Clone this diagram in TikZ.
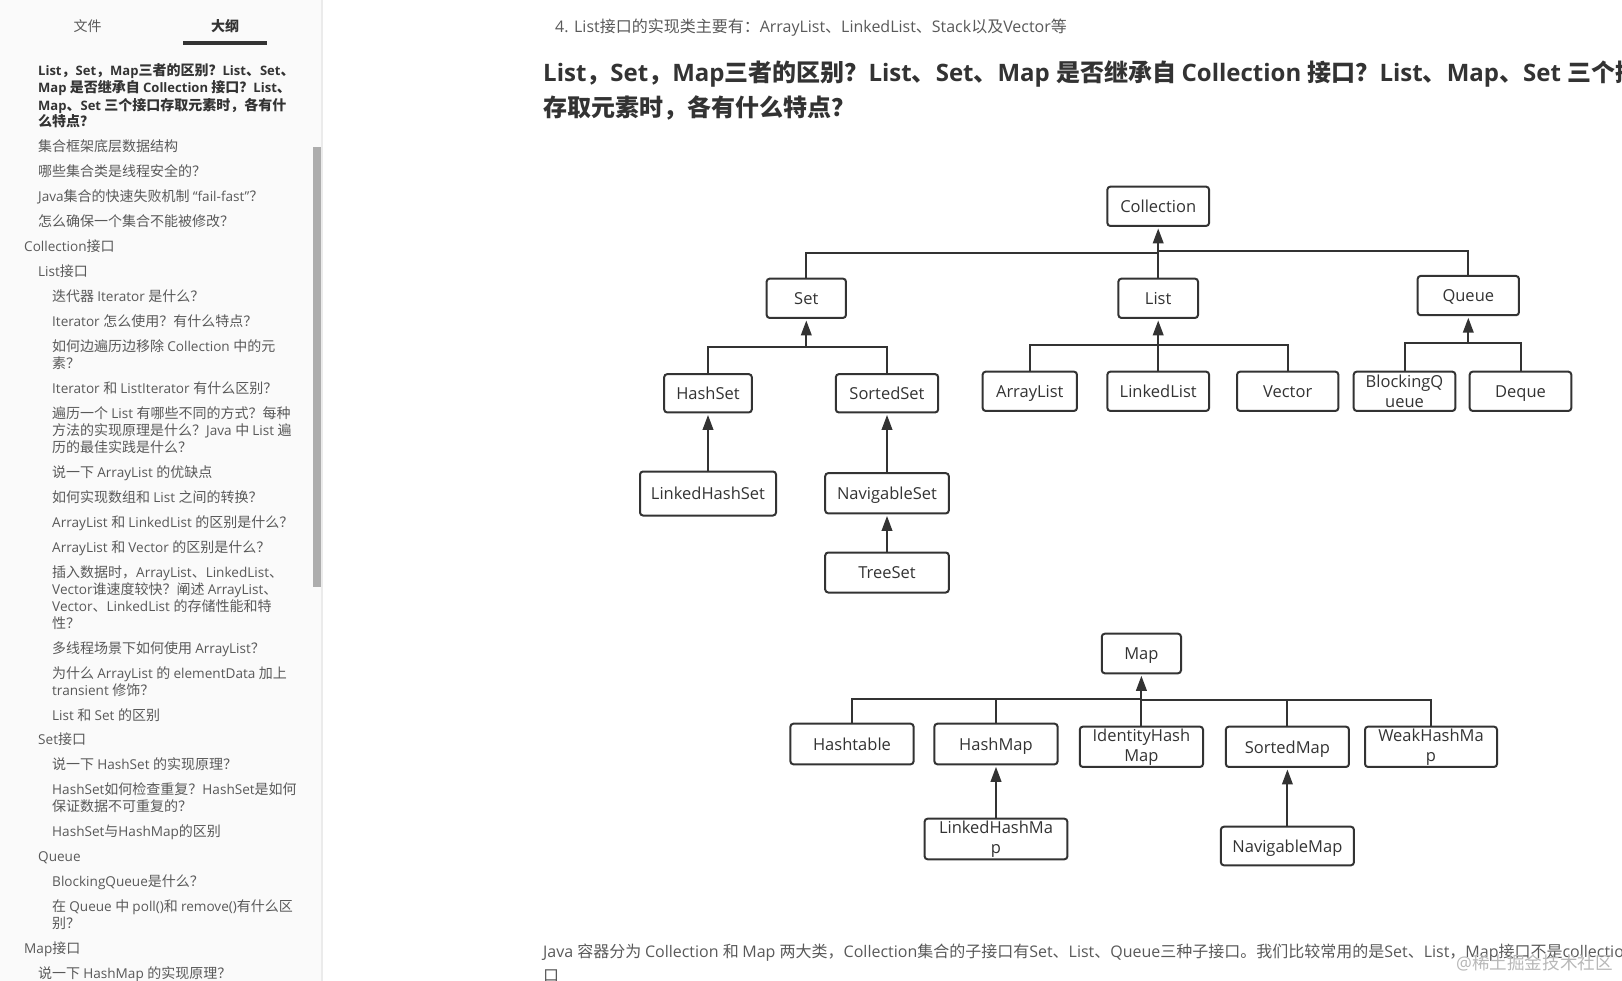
\documentclass[tikz,border=0pt]{standalone}
\usepackage{fontspec}
\usetikzlibrary{arrows.meta}
\setmainfont{Open Sans}
\newfontfamily\sidelatin{Open Sans}[Scale=0.97]
\newfontfamily\sidehead{Open Sans}[Scale=0.93]
\newfontfamily\cjk{Noto Sans CJK SC}

% Chinese letters take the CJK family by themselves
\XeTeXinterchartokenstate=1
\newXeTeXintercharclass\cjkclass
\newcount\zhchar
\zhchar="4E00
\loop \XeTeXcharclass\zhchar=\cjkclass \advance\zhchar 1 \ifnum\zhchar<"A000 \repeat
\zhchar="3000
\loop \XeTeXcharclass\zhchar=\cjkclass \advance\zhchar 1 \ifnum\zhchar<"3040 \repeat
\zhchar="FF00
\loop \XeTeXcharclass\zhchar=\cjkclass \advance\zhchar 1 \ifnum\zhchar<"FFF0 \repeat
\XeTeXinterchartoks 0 \cjkclass={\cjk}
\XeTeXinterchartoks 4095 \cjkclass={\cjk}
\XeTeXinterchartoks \cjkclass 0={\rmfamily}
\XeTeXinterchartoks 4095 0={\rmfamily}

\definecolor{ink}{HTML}{333333}
\definecolor{outline}{HTML}{595959}
\definecolor{sidebg}{HTML}{FAFAFA}

\begin{document}
\begin{tikzpicture}[x=1pt, y=-1pt, node distance=95pt, >={Triangle[length=15pt,width=10.6pt]}]

    % Define the styles for the nodes
    \tikzstyle{entity} = [rectangle, draw=ink, line width=2pt, rounded corners=3pt, inner sep=0pt, text=ink, align=center, text height=14pt, text depth=1.5pt, font=\fontsize{16.5}{20}\selectfont]
    \tikzstyle{twolines} = [entity, text height=, text depth=]
    \tikzstyle{link} = [draw=ink, line width=2pt]
    \tikzstyle{inherit} = [link, <-, shorten <=1.5pt]
    \tikzstyle{sideline} = [anchor=base west, inner sep=0pt, text=outline, font=\let\rmfamily\sidelatin\fontsize{14}{17}\selectfont]
    \tikzstyle{pageline} = [anchor=base west, inner sep=0pt, text=outline, font=\fontsize{16}{20}\selectfont]
    \tikzstyle{titleline} = [anchor=base west, inner sep=0pt, text=ink, font=\bfseries\fontsize{24}{30}\selectfont]

    \useasboundingbox (0,0) rectangle (1622,981);
    \clip (0,0) rectangle (1622,981);

    % Sidebar
    \fill[sidebg] (0,0) rectangle (321,981);
    \fill[black!8] (321,0) rectangle (322.5,981);
    \fill[black!32] (313,147) rectangle (321,587);
    \node (tabfile) [sideline, anchor=center] at (87.5,26) {文件};
    \node (taboutline) [sideline, anchor=center, text=ink, font=\bfseries\fontsize{14}{17}\selectfont] at (225,26) {大纲};
    \fill[ink] (183,41) rectangle (267,45);

    \foreach \i/\x/\y/\t in {
      1/38/71/{List，Set，Map三者的区别？List、Set、},
      2/38/88/{Map 是否继承自 Collection 接口？List、},
      3/38/105.5/{Map、Set 三个接口存取元素时，各有什},
      4/38/122/{么特点？}}
      \node (head\i) [sideline, text=ink, font=\let\rmfamily\sidehead\bfseries\fontsize{14}{17}\selectfont] at (\x,\y+5) {\t};

    \foreach \i/\x/\y/\t in {
      1/38/147/{集合框架底层数据结构},
      2/38/172/{哪些集合类是线程安全的？},
      3/38/197/{Java集合的快速失败机制 “fail-fast”？},
      4/38/221.5/{怎么确保一个集合不能被修改？},
      5/24/247/{Collection接口},
      6/38/272/{List接口},
      7/52/297/{迭代器 Iterator 是什么？},
      8/52/322/{Iterator 怎么使用？有什么特点？},
      9/52/347/{如何边遍历边移除 Collection 中的元},
      10/52/364/{素？},
      11/52/388/{Iterator 和 ListIterator 有什么区别？},
      12/52/413.5/{遍历一个 List 有哪些不同的方式？每种},
      13/52/430/{方法的实现原理是什么？Java 中 List 遍},
      14/52/447/{历的最佳实践是什么？},
      15/52/472/{说一下 ArrayList 的优缺点},
      16/52/497/{如何实现数组和 List 之间的转换？},
      17/52/522/{ArrayList 和 LinkedList 的区别是什么？},
      18/52/547/{ArrayList 和 Vector 的区别是什么？},
      19/52/572/{插入数据时，ArrayList、LinkedList、},
      20/52/589/{Vector谁速度较快？阐述 ArrayList、},
      21/52/606/{Vector、LinkedList 的存储性能和特},
      22/52/623/{性？},
      23/52/648/{多线程场景下如何使用 ArrayList？},
      24/52/673.5/{为什么 ArrayList 的 elementData 加上},
      25/52/690/{transient 修饰？},
      26/52/715/{List 和 Set 的区别},
      27/38/739.5/{Set接口},
      28/52/764.5/{说一下 HashSet 的实现原理？},
      29/52/789.5/{HashSet如何检查重复？HashSet是如何},
      30/52/806.5/{保证数据不可重复的？},
      31/52/831.5/{HashSet与HashMap的区别},
      32/38/856.5/{Queue},
      33/52/881.5/{BlockingQueue是什么？},
      34/52/906.5/{在 Queue 中 poll()和 remove()有什么区},
      35/52/923.5/{别？},
      36/24/948.2/{Map接口},
      37/38/973.2/{说一下 HashMap 的实现原理？}}
      \node (side\i) [sideline] at (\x,\y+5) {\t};

    % Page text
    \node (listnote) [pageline] at (555,33) {4. List接口的实现类主要有：ArrayList、LinkedList、Stack以及Vector等};
    \node (title1) [titleline] at (543,82) {List，Set，Map三者的区别？List、Set、Map 是否继承自 Collection 接口？List、Map、Set 三个接};
    \node (title2) [titleline] at (543,117) {存取元素时，各有什么特点？};
    \node (summary) [pageline] at (543,957.5) {Java 容器分为 Collection 和 Map 两大类，Collection集合的子接口有Set、List、Queue三种子接口。我们比较常用的是Set、List，Map接口不是collection};
    \node (summary2) [pageline] at (543,981) {口};
    \node (mark) [pageline, text=black!28, font=\fontsize{17.6}{20}\selectfont] at (1456,969) {@稀土掘金技术社区};

    % Nodes
    \node (set) [entity, minimum width=79.3pt, minimum height=39.3pt] at (806.3,298.3) {Set};
    \node (list) [entity, right of=set, node distance=351.9pt, minimum width=79.6pt, minimum height=39.3pt] {List};
    \node (queue) [entity, right of=list, node distance=310.1pt, yshift=2.7pt, minimum width=101.3pt, minimum height=39.3pt] {Queue};
    \node (collection) [entity, above of=list, node distance=92pt, minimum width=101.7pt, minimum height=39.3pt] {Collection};

    \node (hashset) [entity, below of=set, xshift=-98.3pt, minimum width=87.6pt, minimum height=38.3pt] {HashSet};
    \node (sortedset) [entity, right of=hashset, node distance=179pt, minimum width=102.3pt, minimum height=38.3pt] {SortedSet};
    \node (linkedhashset) [entity, below of=hashset, node distance=100.2pt, minimum width=136pt, minimum height=44pt] {LinkedHashSet};
    \node (navigableset) [entity, below of=sortedset, node distance=100pt, minimum width=123.6pt, minimum height=40.3pt] {NavigableSet};
    \node (treeset) [entity, below of=navigableset, node distance=79.2pt, minimum width=123.6pt, minimum height=40pt] {TreeSet};

    \node (linkedlist) [entity, below of=list, node distance=93pt, minimum width=101.7pt, minimum height=39.3pt] {LinkedList};
    \node (arraylist) [entity, left of=linkedlist, node distance=128.4pt, minimum width=94.3pt, minimum height=39.3pt] {ArrayList};
    \node (vector) [entity, right of=linkedlist, node distance=129.5pt, minimum width=101.3pt, minimum height=39.3pt] {Vector};
    \node (blockingqueue) [twolines, right of=vector, node distance=116.8pt, minimum width=101.6pt, minimum height=39.3pt] {BlockingQ\\ueue};
    \node (deque) [entity, right of=blockingqueue, node distance=116pt, minimum width=101.6pt, minimum height=39.3pt] {Deque};

    \node (map) [entity, minimum width=79.2pt, minimum height=39.6pt] at (1141.4,653.5) {Map};
    \node (identityhashmap) [twolines, below of=map, node distance=93.3pt, minimum width=123.2pt, minimum height=40.3pt] {IdentityHash\\Map};
    \node (sortedmap) [entity, right of=identityhashmap, node distance=146pt, minimum width=123.1pt, minimum height=40.3pt] {SortedMap};
    \node (weakhashmap) [twolines, right of=sortedmap, node distance=143.6pt, minimum width=132pt, minimum height=40.3pt] {WeakHashMa\\p};
    \node (hashmap) [entity, below of=map, node distance=90.5pt, xshift=-145.4pt, minimum width=123.2pt, minimum height=40.6pt] {HashMap};
    \node (hashtable) [entity, left of=hashmap, node distance=144pt, minimum width=123.2pt, minimum height=40.6pt] {Hashtable};
    \node (linkedhashmap) [twolines, below of=hashmap, minimum width=142.8pt, minimum height=40.6pt] {LinkedHashMa\\p};
    \node (navigablemap) [entity, below of=sortedmap, node distance=99.2pt, minimum width=133pt, minimum height=38.6pt] {NavigableMap};

    % Bus points
    \coordinate (collectionbusl) at (1158.2,253);
    \coordinate (collectionbusr) at (1158.2,251);
    \coordinate (setbus) at (806.3,346.7);
    \coordinate (listbus) at (1158.2,344.7);
    \coordinate (queuebus) at (1468.3,343.3);
    \coordinate (mapbusl) at (1141.4,699);
    \coordinate (mapbusr) at (1141.4,700.3);

    % Arrows
    \draw[inherit] (collection) -- (list);
    \draw[link] (set.north) |- (collectionbusl);
    \draw[link] (queue.north) |- (collectionbusr);

    \draw[inherit] (set) -- (setbus);
    \draw[link] (hashset.north) |- (setbus);
    \draw[link] (sortedset.north) |- (setbus);
    \draw[inherit] (hashset) -- (linkedhashset);
    \draw[inherit] (sortedset) -- (navigableset);
    \draw[inherit] (navigableset) -- (treeset);

    \draw[inherit] (list) -- (linkedlist);
    \draw[link] (arraylist.north) |- (listbus);
    \draw[link] (vector.north) |- (listbus);

    \draw[inherit] (queue) -- (queuebus);
    \draw[link] (blockingqueue.north) |- (queuebus);
    \draw[link] (deque.north) |- (queuebus);

    \draw[inherit] (map) -- (identityhashmap);
    \draw[link] (hashtable.north) |- (mapbusl);
    \draw[link] (hashmap.north) |- (mapbusl);
    \draw[link] (sortedmap.north) |- (mapbusr);
    \draw[link] (weakhashmap.north) |- (mapbusr);
    \draw[inherit] (hashmap) -- (linkedhashmap);
    \draw[inherit] (sortedmap) -- (navigablemap);

    \end{tikzpicture}
\end{document}
